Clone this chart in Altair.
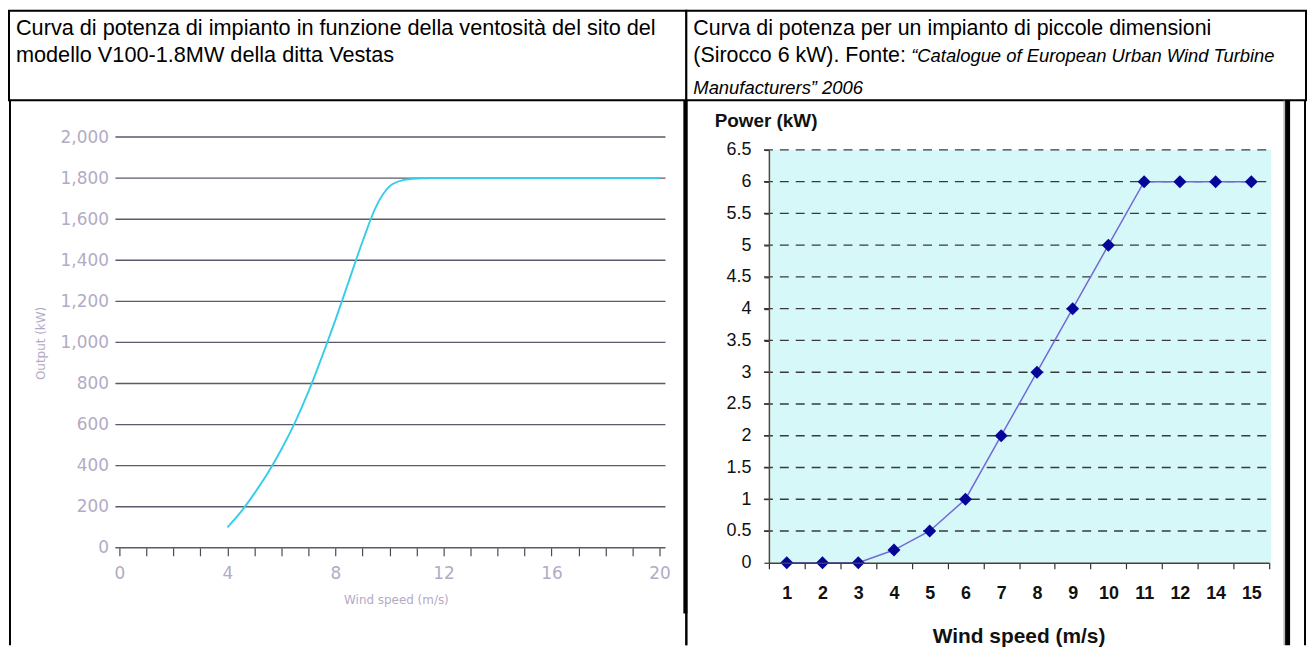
import altair as alt
import pandas as pd

# ---------------- data ----------------
# Left panel: Vestas V100-1.8MW power curve
vestas_speed = [4.0, 4.5, 5.0, 5.5, 6.0, 6.5, 7.0, 7.5, 8.0, 8.5, 9.0, 9.5, 10.0,
                10.5, 11.0, 11.5, 12.0, 13.0, 14.0, 15.0, 16.0, 17.0, 18.0, 19.0, 20.0]
vestas_power = [100, 175, 265, 365, 480, 610, 760, 930, 1110, 1300, 1490, 1660, 1760,
                1790, 1798, 1800, 1800, 1800, 1800, 1800, 1800, 1800, 1800, 1800, 1800]
left_x_ticks = list(range(0, 21))
left_y_ticks = [0, 200, 400, 600, 800, 1000, 1200, 1400, 1600, 1800, 2000]

# Right panel: Sirocco 6 kW
sirocco_speed = ["1", "2", "3", "4", "5", "6", "7", "8", "9", "10", "11", "12", "14", "15"]
sirocco_power = [0, 0, 0, 0.2, 0.5, 1, 2, 3, 4, 5, 6, 6, 6, 6]
right_y_ticks = [0, 0.5, 1, 1.5, 2, 2.5, 3, 3.5, 4, 4.5, 5, 5.5, 6, 6.5]

header_left = ["Curva di potenza di impianto in funzione della ventosità del sito del",
               "modello V100-1.8MW della ditta Vestas"]
header_right = ["Curva di potenza per un impianto di piccole dimensioni",
                "(Sirocco 6 kW). Fonte: "]
header_right_italic = ["\u201cCatalogue of European Urban Wind Turbine",
                       "Manufacturers\u201d 2006"]

# ---------------- layout ----------------
LW, RW, HH, CH = 681, 623, 90, 548
LX0, LX1, LY0, LY1 = 111, 654, 450, 37
RX0, RX1, RY0, RY1 = 83, 586, 465, 50
HFONT = "Liberation Sans"


def one():
    return pd.DataFrame({"k": [0]})


def vrule(x, y0, y1, width, color="black"):
    return alt.Chart(one()).mark_rule(color=color, strokeWidth=width).encode(
        x=alt.value(x), y=alt.value(y0), y2=alt.value(y1))


# ---------------- headers ----------------
hl = alt.Chart(pd.DataFrame({"t": ["\n".join(header_left)]})).mark_text(
    align="left", baseline="alphabetic", font=HFONT, fontSize=21.8,
    lineBreak="\n", lineHeight=28, color="black"
).encode(x=alt.value(7), y=alt.value(24), text="t:N").properties(
    width=LW, height=HH,
    view=alt.ViewBackground(stroke="black", strokeWidth=2, fill="white"))

hr_main = alt.Chart(pd.DataFrame({"t": ["\n".join(header_right)]})).mark_text(
    align="left", baseline="alphabetic", font=HFONT, fontSize=21.5,
    lineBreak="\n", lineHeight=28, color="black"
).encode(x=alt.value(7), y=alt.value(24), text="t:N")
hr_it1 = alt.Chart(pd.DataFrame({"t": [header_right_italic[0]]})).mark_text(
    align="left", baseline="alphabetic", font=HFONT, fontSize=18.5,
    fontStyle="italic", color="black"
).encode(x=alt.value(226), y=alt.value(52), text="t:N")
hr_it2 = alt.Chart(pd.DataFrame({"t": [header_right_italic[1]]})).mark_text(
    align="left", baseline="alphabetic", font=HFONT, fontSize=18.5,
    fontStyle="italic", color="black"
).encode(x=alt.value(7), y=alt.value(84), text="t:N")
hr = alt.layer(hr_main, hr_it1, hr_it2).properties(
    width=RW, height=HH,
    view=alt.ViewBackground(stroke="black", strokeWidth=2, fill="white"))

# ---------------- left chart ----------------
light = "#b3abc5"
vdf = pd.DataFrame({"speed": vestas_speed, "power": vestas_power})
xs_l = alt.Scale(domain=[0, 20], range=[LX0, LX1], nice=False, zero=False)
ys_l = alt.Scale(domain=[0, 2000], range=[LY0, LY1], nice=False, zero=False)

ax_xl = alt.Axis(
    values=left_x_ticks, labelExpr="datum.value % 4 === 0 ? datum.label : ''",
    grid=False, domain=False, tickColor="#4a4a55", tickSize=8, tickWidth=1.2,
    labelColor=light, labelFont="DejaVu Sans", labelFontSize=17, labelPadding=10,
    labelFlush=False, labelOverlap=False, offset=-(CH - LY0), zindex=1,
    title="Wind speed (m/s)", titleColor=light, titleFont="DejaVu Sans",
    titleFontSize=12, titleFontWeight="normal", titleX=389, titleY=52,
    titleBaseline="middle", titleAlign="center")
ax_yl = alt.Axis(
    values=left_y_ticks, format=",d", grid=False, domain=False, ticks=False,
    labelColor=light, labelFont="DejaVu Sans", labelFontSize=17, labelPadding=11,
    labelOverlap=False, offset=-LX0, zindex=1,
    title="Output (kW)", titleColor=light, titleFont="DejaVu Sans", titleFontSize=12,
    titleFontWeight="normal", titleAngle=270, titleX=32 - LX0, titleY=244,
    titleBaseline="middle", titleAlign="center")

y_l = alt.Y("power:Q", scale=ys_l, axis=ax_yl)
x_l = alt.X("speed:Q", scale=xs_l, axis=ax_xl)

grid_l = alt.Chart(pd.DataFrame({"power": left_y_ticks})).mark_rule(
    color="#5a5a6a", strokeWidth=1.4
).encode(y=y_l, x=alt.value(107), x2=alt.value(660))
curve_l = alt.Chart(vdf).mark_line(color="#35cde8", strokeWidth=1.9, interpolate="monotone").encode(
    x=x_l, y=y_l)

left_chart = alt.layer(
    grid_l, curve_l,
    vrule(1, 0, CH, 2), vrule(681, 0, CH, 2), vrule(680, 0, 516, 4)
).properties(width=LW, height=CH, view=alt.ViewBackground(stroke="transparent"))

# ---------------- right chart ----------------
dark = "#111111"
sdf = pd.DataFrame({"speed": sirocco_speed, "power": sirocco_power})
xs_r = alt.Scale(type="band", domain=sirocco_speed, range=[RX0, RX1], paddingInner=0, paddingOuter=0)
ys_r = alt.Scale(domain=[0, 6.5], range=[RY0, RY1], nice=False, zero=False)

ax_xr = alt.Axis(
    tickBand="extent", grid=False, domainColor="#404040", domainWidth=1.5,
    tickColor="#303030", tickSize=6, tickWidth=1.2,
    labelColor=dark, labelFont="Liberation Sans", labelFontSize=18, labelFontWeight="bold",
    labelPadding=16, labelAngle=0, offset=-(CH - RY0), zindex=1,
    title="Wind speed (m/s)", titleColor=dark, titleFont="Liberation Sans", titleFontSize=21,
    titleFontWeight="bold", titleX=334, titleY=74, titleBaseline="middle", titleAlign="center")
ax_yr = alt.Axis(
    values=right_y_ticks, format="~g", grid=False, domainColor="#5a4636", domainWidth=1.5,
    tickColor="#303030", tickSize=5, tickWidth=1.2,
    labelColor=dark, labelFont="Liberation Sans", labelFontSize=18, labelPadding=13,
    labelOverlap=False, offset=-RX0, zindex=1,
    title="Power (kW)", titleColor=dark, titleFont="Liberation Sans", titleFontSize=19,
    titleFontWeight="bold", titleAngle=0, titleX=28 - RX0, titleY=20,
    titleAlign="left", titleBaseline="middle")

x_r = alt.X("speed:O", scale=xs_r, sort=sirocco_speed, axis=ax_xr)
y_r = alt.Y("power:Q", scale=ys_r, axis=ax_yr)

bg_r = alt.Chart(pd.DataFrame({"power": [right_y_ticks[0]], "hi": [right_y_ticks[-1]]})).mark_rect(
    color="#d6f8f8"
).encode(x=alt.value(RX0), x2=alt.value(588), y=y_r, y2="hi:Q")
grid_r = alt.Chart(pd.DataFrame({"power": right_y_ticks[1:]})).mark_rule(
    color="#3a3a3a", strokeWidth=1.3, strokeDash=[9, 7]
).encode(y=y_r, x=alt.value(RX0 - 5), x2=alt.value(588))
line_r = alt.Chart(sdf).mark_line(color="#7468d8", strokeWidth=1.5).encode(x=x_r, y=y_r)
pts_r = alt.Chart(sdf).mark_point(shape="diamond", filled=True, size=170, color="#05059a",
                                  opacity=1).encode(x=x_r, y=y_r)

right_chart = alt.layer(
    bg_r, grid_r, line_r, pts_r,
    vrule(0, 0, CH, 2), vrule(601, 0, CH, 1, "#8a8a8a"), vrule(604.5, 0, CH, 5),
    vrule(622, 0, CH, 2)
).properties(width=RW, height=CH, view=alt.ViewBackground(stroke="transparent"))

chart = alt.concat(
    hl, hr, left_chart, right_chart,
    columns=2, spacing=0, bounds="flush", align="each"
).properties(padding={"left": 0, "top": 0, "right": 0, "bottom": 0}).configure(background="white")

chart.save("out.html", embed_options={"renderer": "svg", "actions": False})
